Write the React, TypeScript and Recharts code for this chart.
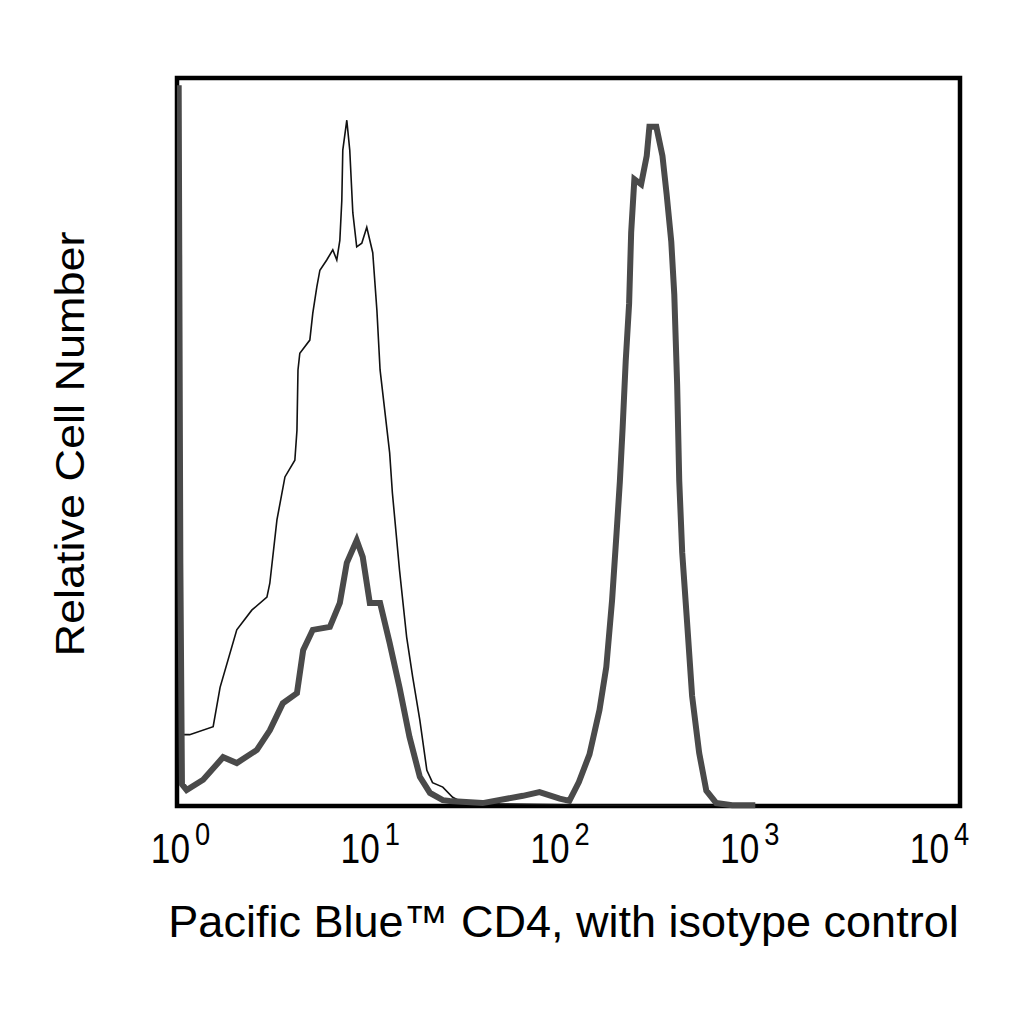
import React from 'react';
import { LineChart, Line, XAxis, YAxis, ReferenceArea } from 'recharts';

// isotype control (thin line)
const isoX = [1.03, 1.16, 1.53, 1.66, 2.02, 2.41, 2.88, 2.98, 3.24, 3.56, 4.0, 4.1, 4.15, 4.24, 4.77, 4.94, 5.18, 5.37, 5.82, 6.25, 6.55, 6.79, 6.95, 7.03, 7.37, 7.63, 7.91, 8.28, 8.79, 9.32, 10, 10.5, 10.9, 12.2, 12.6, 13.7, 14.9, 16.0, 17.4, 18.9, 20.2, 22.8, 25.6, 28.8, 44.5, 150, 900];
const isoY = [9.8, 9.8, 10.9, 16.3, 24.2, 26.9, 28.7, 30.6, 39.3, 45.2, 47.5, 51.6, 59.9, 62.2, 64.0, 67.7, 71.3, 73.6, 75.0, 76.4, 75.0, 77.7, 83.2, 90.1, 94.2, 90.1, 81.5, 76.8, 77.3, 79.5, 76.0, 68.1, 59.9, 48.5, 43.0, 32.4, 23.2, 17.7, 11.8, 4.9, 3.2, 2.6, 1.2, 0.5, 0.3, 0.1, 0.1];

// Pacific Blue CD4 (thick line)
const cd4X = [1.02, 1.04, 1.06, 1.12, 1.36, 1.72, 2.02, 2.56, 2.98, 3.47, 4.1, 4.41, 4.94, 6.04, 6.79, 7.37, 8.28, 8.89, 9.66, 10.9, 12.2, 13.7, 15.4, 17.4, 19.6, 22.8, 24.7, 36.4, 58.5, 71.1, 90.2, 101, 113, 128, 144, 156, 167, 176, 183, 189, 196, 204, 209, 217, 235, 251, 259, 281, 302, 317, 335, 347, 359, 368, 381, 404, 428, 465, 506, 569, 686, 900];
const cd4Y = [99, 33.4, 3.0, 2.2, 3.6, 6.7, 5.9, 7.7, 10.4, 14.1, 15.5, 21.4, 24.2, 24.6, 27.9, 33.4, 36.5, 34.2, 27.9, 27.9, 22.4, 16.3, 9.5, 4.0, 1.8, 0.8, 0.7, 0.4, 1.4, 1.9, 1.0, 0.7, 3.3, 7.1, 13.2, 19.1, 28.3, 37.5, 44.6, 51.9, 61.1, 69.0, 78.8, 86.1, 85.4, 89.3, 93.3, 93.3, 89.3, 84.1, 77.5, 70.3, 57.8, 44.6, 34.8, 25.0, 15.1, 7.3, 2.1, 0.4, 0.1, 0.1];

const xTicks = [1, 10, 100, 1000, 10000];

const isoData = isoX.map((x, i) => ({ x, y: isoY[i] }));
const cd4Data = cd4X.map((x, i) => ({ x, y: cd4Y[i] }));

const font = 'Liberation Sans, Arial, sans-serif';

// "10" with superscript exponent, glyphs a bit condensed like the original
function PowerTick(props: any) {
  const { x, y, payload } = props;
  const exp = Math.round(Math.log10(payload.value));
  const right = x + 13 - 6 * exp;
  const base = y + 49;
  return (
    <g>
      <text transform={`translate(${right}, ${base}) scale(0.84, 1)`} textAnchor="end" fontSize={42} fontFamily={font} fill="#000">10</text>
      <text transform={`translate(${right + 5}, ${base - 18}) scale(0.88, 1)`} fontSize={31} fontFamily={font} fill="#000">{exp}</text>
    </g>
  );
}

function Titles(props: any) {
  const { viewBox } = props;
  return (
    <g>
      <text x={viewBox.x + viewBox.width / 2 - 5} y={937} textAnchor="middle" fontSize={45} fontFamily={font} fill="#000">
        Pacific Blue™ CD4, with isotype control
      </text>
      <text transform="translate(84, 444) rotate(-90) scale(1, 0.9)" textAnchor="middle" fontSize={45} fontFamily={font} fill="#000">
        Relative Cell Number
      </text>
    </g>
  );
}

export default function App() {
  return (
    <div style={{ position: 'absolute', left: 0, top: 0, width: 1024, height: 1024, background: '#fff' }}>
      <LineChart width={1024} height={1024} margin={{ top: 78, right: 64, bottom: 158, left: 177 }}>
        <XAxis
          dataKey="x"
          type="number"
          scale="log"
          domain={[1, 10000]}
          ticks={xTicks}
          allowDataOverflow
          axisLine={false}
          tickLine={false}
          height={60}
          tick={<PowerTick />}
          label={<Titles />}
        />
        <YAxis type="number" domain={[0, 100]} width={0} tick={false} axisLine={false} tickLine={false} />
        <Line data={isoData} dataKey="y" stroke="#111" strokeWidth={1.6} dot={false} isAnimationActive={false} />
        <Line data={cd4Data} dataKey="y" stroke="#4a4a4a" strokeWidth={6} dot={false} isAnimationActive={false} />
        <ReferenceArea x1={1} x2={10000} y1={0} y2={100} fill="none" stroke="#000" strokeWidth={4.5} ifOverflow="visible" />
      </LineChart>
    </div>
  );
}
